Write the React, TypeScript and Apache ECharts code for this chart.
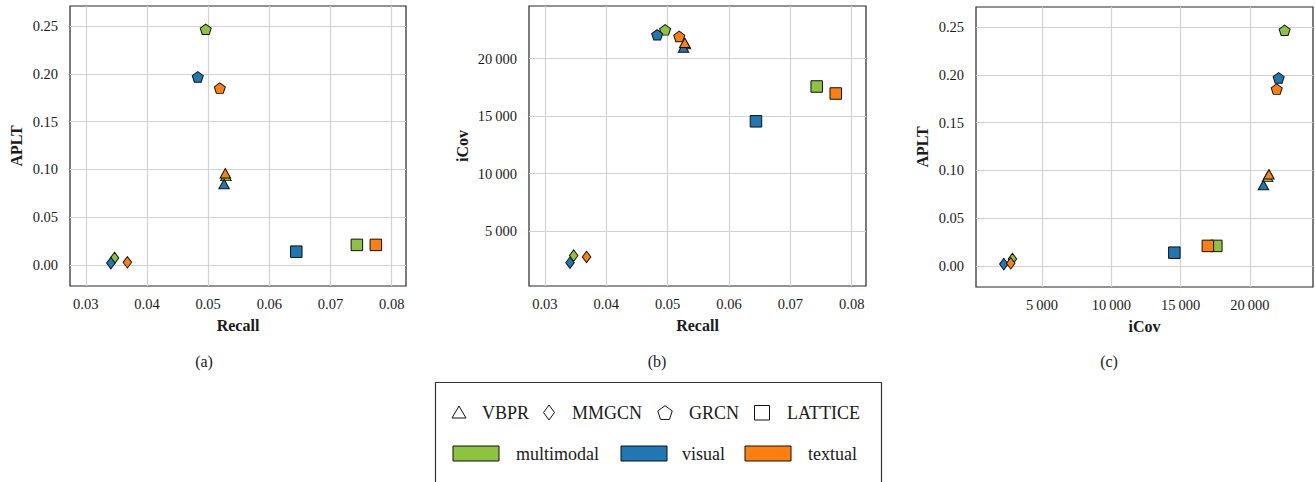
import React, { useEffect, useRef } from 'react';
import * as echarts from 'echarts';

// ---------- data ----------
const models = ['VBPR', 'MMGCN', 'GRCN', 'LATTICE'];
const modalities = ['multimodal', 'visual', 'textual'];
const modalityColors = ['#8dc43f', '#1f77b4', '#ff7f0e'];

// values per model (VBPR, MMGCN, GRCN, LATTICE)
const recallMultimodal = [0.0529, 0.0347, 0.0496, 0.0743];
const recallVisual = [0.0526, 0.0341, 0.0483, 0.0644];
const recallTextual = [0.0528, 0.0368, 0.0519, 0.0774];

const apltMultimodal = [0.0932, 0.0073, 0.2465, 0.021];
const apltVisual = [0.0847, 0.002, 0.1967, 0.0139];
const apltTextual = [0.096, 0.0028, 0.185, 0.021];

const icovMultimodal = [21280, 2860, 22510, 17580];
const icovVisual = [20980, 2240, 22080, 14550];
const icovTextual = [21380, 2740, 21940, 16970];

const recallTicks = [0.03, 0.04, 0.05, 0.06, 0.07, 0.08];
const recallTickLabels = ['0.03', '0.04', '0.05', '0.06', '0.07', '0.08'];
const apltTicks = [0, 0.05, 0.1, 0.15, 0.2, 0.25];
const apltTickLabels = ['0.00', '0.05', '0.10', '0.15', '0.20', '0.25'];
const icovTicks = [5000, 10000, 15000, 20000];
const icovTickLabels = ['5\u2009000', '10\u2009000', '15\u2009000', '20\u2009000'];

const recallRange = [0.02742, 0.08233];
const apltRange = [-0.022, 0.2709];
const icovRange = [230, 24560];

const captions = ['(a)', '(b)', '(c)'];

// ---------- styling ----------
const FONT = 'Liberation Serif, DejaVu Serif, serif';
const TEXT = '#1a1a1a';
const pentagonPath =
  'path://M0,-1 L0.951,-0.309 L0.588,0.809 L-0.588,0.809 L-0.951,-0.309 Z';
const modelSymbols = ['triangle', 'diamond', pentagonPath, 'rect'];
const modelSizes: any[] = [[10.5, 9.5], [8.5, 11.5], [11, 10.5], [11.5, 11.5]];

function fmt(ticks: number[], labels: string[]) {
  return (v: number) => {
    const i = ticks.findIndex((t) => Math.abs(t - v) < 1e-9 * Math.max(1, Math.abs(t)));
    return i >= 0 ? labels[i] : '';
  };
}

function makeAxis(
  gridIndex: number,
  range: number[],
  ticks: number[],
  labels: string[],
  name: string,
  isX: boolean,
  nameGap: number
) {
  return {
    type: 'value',
    gridIndex,
    min: range[0],
    max: range[1],
    name,
    nameLocation: 'middle',
    nameGap,
    nameTextStyle: { fontFamily: FONT, fontWeight: 'bold', fontSize: 16, color: TEXT },
    axisLine: { show: false },
    axisTick: { show: false, customValues: ticks },
    axisLabel: {
      customValues: ticks,
      formatter: fmt(ticks, labels),
      fontFamily: FONT,
      fontSize: 14.5,
      color: TEXT,
      margin: isX ? 10 : 12,
    },
    splitLine: { show: true, lineStyle: { color: '#d2d2d2', width: 1.2 } },
  };
}

const grids = [
  { left: 70, top: 6, width: 336, height: 280 },
  { left: 529, top: 6, width: 337, height: 280 },
  { left: 976, top: 7, width: 337, height: 280 },
];

const App: React.FC = () => {
  const ref = useRef<HTMLDivElement>(null);

  useEffect(() => {
    document.body.style.margin = '0';
    if (!ref.current) return;
    const chart = echarts.init(ref.current, undefined, { renderer: 'svg' });

    const xs = [
      [recallMultimodal, recallVisual, recallTextual],
      [recallMultimodal, recallVisual, recallTextual],
      [icovMultimodal, icovVisual, icovTextual],
    ];
    const ys = [
      [apltMultimodal, apltVisual, apltTextual],
      [icovMultimodal, icovVisual, icovTextual],
      [apltMultimodal, apltVisual, apltTextual],
    ];

    const series: any[] = [];
    for (let g = 0; g < 3; g++) {
      for (let m = 0; m < modalities.length; m++) {
        series.push({
          type: 'scatter',
          name: modalities[m],
          xAxisIndex: g,
          yAxisIndex: g,
          symbolKeepAspect: false,
          data: models.map((_, i) => ({
            value: [xs[g][m][i], ys[g][m][i]],
            symbol: modelSymbols[i],
            symbolSize: modelSizes[i],
          })),
          itemStyle: { color: modalityColors[m], borderColor: '#111', borderWidth: 1, opacity: 1 },
          emphasis: { disabled: true },
        });
      }
    }

    // ----- legend (graphic) -----
    const graphic: any[] = [];
    graphic.push({
      type: 'rect',
      shape: { x: 435.5, y: 382.5, width: 446, height: 120 },
      style: { fill: '#fff', stroke: '#333', lineWidth: 1.2 },
      z: 1,
    });
    const row1Y = 412.5;
    const symX = [459, 549, 665, 762];
    const txtX = [482, 572, 689, 787];
    const legStyle = { fill: 'none', stroke: '#111', lineWidth: 1 };
    // triangle
    graphic.push({
      type: 'polygon',
      shape: { points: [[symX[0], row1Y - 6.5], [symX[0] + 7, row1Y + 5.5], [symX[0] - 7, row1Y + 5.5]] },
      style: legStyle,
      z: 2,
    });
    // diamond
    graphic.push({
      type: 'polygon',
      shape: { points: [[symX[1], row1Y - 7.5], [symX[1] + 5.5, row1Y], [symX[1], row1Y + 7.5], [symX[1] - 5.5, row1Y]] },
      style: legStyle,
      z: 2,
    });
    // pentagon
    const pent: number[][] = [];
    for (let k = 0; k < 5; k++) {
      const a = -Math.PI / 2 + (k * 2 * Math.PI) / 5;
      pent.push([symX[2] + 7.6 * Math.cos(a), row1Y + 0.8 + 7.6 * Math.sin(a)]);
    }
    graphic.push({ type: 'polygon', shape: { points: pent }, style: legStyle, z: 2 });
    // square
    graphic.push({
      type: 'rect',
      shape: { x: symX[3] - 7.5, y: row1Y - 7, width: 15, height: 14.5 },
      style: legStyle,
      z: 2,
    });
    const legendText = (text: string, x: number, y: number) => ({
      type: 'text',
      x,
      y,
      style: {
        text,
        fontFamily: FONT,
        fontSize: 18,
        fill: TEXT,
        textVerticalAlign: 'middle',
        verticalAlign: 'middle',
        textAlign: 'left',
        align: 'left',
      },
      z: 2,
    });
    models.forEach((m, i) => graphic.push(legendText(m, txtX[i], row1Y)));
    const row2Y = 453.5;
    const boxX = [453, 621, 745];
    const txt2X = [516, 682, 808];
    modalities.forEach((m, i) => {
      graphic.push({
        type: 'rect',
        shape: { x: boxX[i], y: row2Y - 7.5, width: 46, height: 15 },
        style: { fill: modalityColors[i], stroke: '#111', lineWidth: 1 },
        z: 2,
      });
      graphic.push(legendText(m, txt2X[i], row2Y));
    });
    // captions
    const capX = [204, 657, 1109];
    captions.forEach((c, i) => {
      graphic.push({
        type: 'text',
        x: capX[i],
        y: 361,
        style: {
          text: c,
          fontFamily: FONT,
          fontSize: 16,
          fill: TEXT,
          textAlign: 'center',
          align: 'center',
          textVerticalAlign: 'middle',
          verticalAlign: 'middle',
        },
        z: 2,
      });
    });

    chart.setOption({
      animation: false,
      backgroundColor: '#ffffff',
      textStyle: { fontFamily: FONT },
      grid: grids.map((g) => ({
        ...g,
        show: true,
        borderColor: '#262626',
        borderWidth: 1.2,
        backgroundColor: 'transparent',
        containLabel: false,
      })),
      xAxis: [
        makeAxis(0, recallRange, recallTicks, recallTickLabels, 'Recall', true, 31),
        makeAxis(1, recallRange, recallTicks, recallTickLabels, 'Recall', true, 31),
        makeAxis(2, icovRange, icovTicks, icovTickLabels, 'iCov', true, 31),
      ],
      yAxis: [
        makeAxis(0, apltRange, apltTicks, apltTickLabels, 'APLT', false, 46),
        makeAxis(1, [212, 24588], icovTicks, icovTickLabels, 'iCov', false, 59),
        makeAxis(2, apltRange, apltTicks, apltTickLabels, 'APLT', false, 46),
      ],
      series,
      graphic,
    });

    return () => chart.dispose();
  }, []);

  return <div ref={ref} style={{ width: 1315, height: 482 }} />;
};

export default App;
